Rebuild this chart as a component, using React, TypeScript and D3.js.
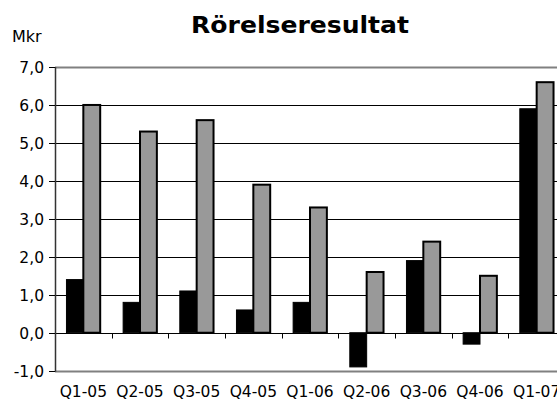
import React, { useEffect, useRef } from 'react';
import * as d3 from 'd3';

const quarters = ['Q1-05', 'Q2-05', 'Q3-05', 'Q4-05', 'Q1-06', 'Q2-06', 'Q3-06', 'Q4-06', 'Q1-07'];
const seriesA = [1.4, 0.8, 1.1, 0.6, 0.8, -0.9, 1.9, -0.3, 5.9];
const seriesB = [6.0, 5.3, 5.6, 3.9, 3.3, 1.6, 2.4, 1.5, 6.6];
const yTicks = [-1, 0, 1, 2, 3, 4, 5, 6, 7];

const App: React.FC = () => {
  const ref = useRef<SVGSVGElement | null>(null);

  useEffect(() => {
    if (!ref.current) return;
    const svg = d3.select(ref.current);
    svg.selectAll('*').remove();

    const width = 557;
    const height = 400;
    const margin = { top: 67, right: -8, bottom: 29, left: 55 };
    const font = 'DejaVu Sans, Verdana, sans-serif';

    svg.attr('width', width).attr('height', height).style('display', 'block');

    const x = d3
      .scaleBand()
      .domain(quarters)
      .range([margin.left, width - margin.right])
      .paddingInner(0)
      .paddingOuter(0);

    const xSub = d3
      .scaleBand()
      .domain(['a', 'b'])
      .range([0, x.bandwidth()])
      .paddingInner(0)
      .paddingOuter(0.68);

    const y = d3
      .scaleLinear()
      .domain([-1, 7])
      .range([height - margin.bottom - 0.3, margin.top]);

    const fmt = (v: number) => d3.format('.1f')(v).replace('.', ',').replace('−', '-');

    // gridlines
    svg
      .append('g')
      .selectAll('line')
      .data(yTicks.filter((t) => t > 0 && t < 7))
      .enter()
      .append('line')
      .attr('x1', margin.left)
      .attr('x2', width)
      .attr('y1', (d) => Math.round(y(d)) + 0.5)
      .attr('y2', (d) => Math.round(y(d)) + 0.5)
      .attr('stroke', '#000')
      .attr('stroke-width', 1);

    // top and bottom borders
    [7, -1].forEach((v) => {
      svg
        .append('line')
        .attr('x1', margin.left)
        .attr('x2', width)
        .attr('y1', Math.round(y(v)) + 0.5)
        .attr('y2', Math.round(y(v)) + 0.5)
        .attr('stroke', '#808080')
        .attr('stroke-width', 2);
    });

    // bars
    const groups = svg
      .append('g')
      .selectAll('g')
      .data(quarters)
      .enter()
      .append('g')
      .attr('transform', (d) => `translate(${x(d)},0)`);

    groups
      .append('rect')
      .attr('x', xSub('a') as number)
      .attr('width', xSub.bandwidth())
      .attr('y', (_, i) => y(Math.max(0, seriesA[i])))
      .attr('height', (_, i) => Math.abs(y(seriesA[i]) - y(0)))
      .attr('fill', '#000')
      .attr('stroke', '#000')
      .attr('stroke-width', 1);

    groups
      .append('rect')
      .attr('x', xSub('b') as number)
      .attr('width', xSub.bandwidth())
      .attr('y', (_, i) => y(Math.max(0, seriesB[i])))
      .attr('height', (_, i) => Math.abs(y(seriesB[i]) - y(0)))
      .attr('fill', '#999999')
      .attr('stroke', '#000')
      .attr('stroke-width', 2);

    // category axis at zero
    const y0 = Math.round(y(0)) + 0.5;
    svg
      .append('line')
      .attr('x1', margin.left)
      .attr('x2', width)
      .attr('y1', y0)
      .attr('y2', y0)
      .attr('stroke', '#000')
      .attr('stroke-width', 1);

    svg
      .append('g')
      .selectAll('line')
      .data(quarters.slice(1))
      .enter()
      .append('line')
      .attr('x1', (d) => Math.round(x(d) as number) + 0.5)
      .attr('x2', (d) => Math.round(x(d) as number) + 0.5)
      .attr('y1', y0)
      .attr('y2', y0 + 5)
      .attr('stroke', '#000');

    // value axis
    svg
      .append('line')
      .attr('x1', margin.left + 0.5)
      .attr('x2', margin.left + 0.5)
      .attr('y1', y(7))
      .attr('y2', y(-1) + 1)
      .attr('stroke', '#333')
      .attr('stroke-width', 1.5);

    const yAxis = svg.append('g');
    yAxis
      .selectAll('line')
      .data(yTicks)
      .enter()
      .append('line')
      .attr('x1', margin.left - 6)
      .attr('x2', margin.left)
      .attr('y1', (d) => Math.round(y(d)) + 0.5)
      .attr('y2', (d) => Math.round(y(d)) + 0.5)
      .attr('stroke', '#000');

    yAxis
      .selectAll('text')
      .data(yTicks)
      .enter()
      .append('text')
      .attr('x', 44)
      .attr('y', (d) => y(d) + 6)
      .attr('text-anchor', 'end')
      .style('font-family', font)
      .style('font-size', '15.5px')
      .attr('fill', '#000')
      .text((d) => fmt(d));

    // category labels
    svg
      .append('g')
      .selectAll('text')
      .data(quarters)
      .enter()
      .append('text')
      .attr('x', (d) => (x(d) as number) + x.bandwidth() / 2)
      .attr('y', 397)
      .attr('text-anchor', 'middle')
      .style('font-family', font)
      .style('font-size', '15.5px')
      .attr('fill', '#000')
      .text((d) => d);

    // unit label
    svg
      .append('text')
      .attr('x', 12)
      .attr('y', 42)
      .style('font-family', font)
      .style('font-size', '16px')
      .attr('fill', '#000')
      .text('Mkr');

    // title
    svg
      .append('text')
      .attr('x', 300)
      .attr('y', 33)
      .attr('text-anchor', 'middle')
      .attr('textLength', 218)
      .attr('lengthAdjust', 'spacingAndGlyphs')
      .style('font-family', font)
      .style('font-size', '23px')
      .style('font-weight', 'bold')
      .attr('fill', '#000')
      .text('Rörelseresultat');
  }, []);

  return (
    <div style={{ position: 'fixed', left: 0, top: 0, width: 557, height: 400, overflow: 'hidden', background: '#fff' }}>
      <svg ref={ref}></svg>
    </div>
  );
};

export default App;
